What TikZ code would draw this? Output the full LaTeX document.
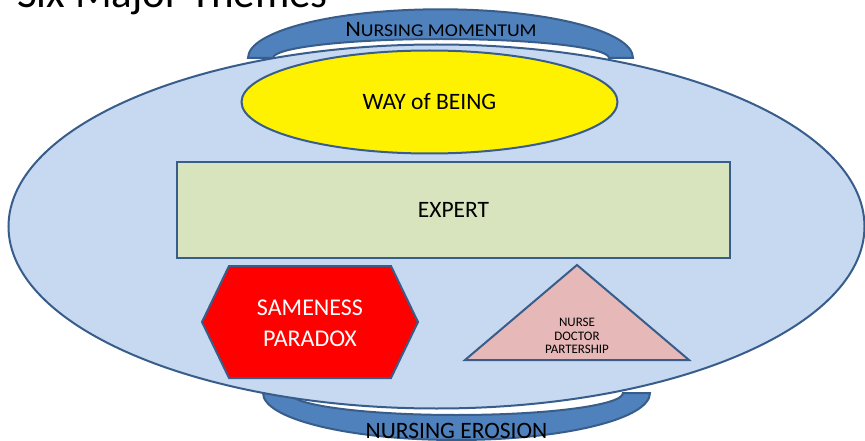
\documentclass[tikz,border=0pt]{standalone}
\usepackage{fontspec}
\setmainfont{Carlito}
\usetikzlibrary{shapes.geometric}

\definecolor{edgeblue}{RGB}{56,93,138}
\definecolor{bandblue}{RGB}{79,129,189}
\definecolor{ovalblue}{RGB}{198,217,241}
\definecolor{expertgreen}{RGB}{215,228,189}
\definecolor{partnerpink}{RGB}{230,185,184}

\begin{document}
\begin{tikzpicture}[x=1pt, y=1pt,
    outline/.style={draw=edgeblue, line width=2pt},
    band/.style={outline, fill=bandblue},
    theme/.style={outline, align=center, inner sep=0pt, font=\fontsize{23.5}{31}\selectfont}]
    \clip (0,0) rectangle (865,440);

    % heading, cut by the top edge
    \node[anchor=base west, inner sep=0pt, font=\fontsize{43}{43}\selectfont] (title) at (17,432) {Six Major Themes};

    % the two bands sit behind the big oval
    \draw[band] (248,382) arc[start angle=180, end angle=0, x radius=192.5pt, y radius=48.7pt]
        -- (609,382) arc[start angle=0, end angle=180, x radius=168pt, y radius=19pt] -- cycle;
    \draw[band] (263,47) arc[start angle=180, end angle=360, x radius=193.5pt, y radius=47pt]
        -- (623,47) arc[start angle=360, end angle=180, x radius=166.5pt, y radius=22pt] -- cycle;

    \node[outline, ellipse, fill=ovalblue, minimum width=856pt, minimum height=364pt] (core) at (436.5,213.5) {};

    \node[theme, ellipse, fill=yellow, minimum width=376pt, minimum height=103pt] (being) at (429.5,338) {WAY of BEING};
    \node[theme, rectangle, fill=expertgreen, minimum width=553pt, minimum height=96pt] (expert) at (453.5,230) {EXPERT};

    % hexagon and triangle
    \draw[outline, fill=red] (202,118) -- (229,174) -- (391,174) -- (418,118) -- (391,62) -- (229,62) -- cycle;
    \node[align=center, text=white, font=\fontsize{24}{31}\selectfont] (sameness) at (310,116.5) {SAMENESS\\PARADOX};
    \draw[outline, fill=partnerpink] (465,80) -- (577,175) -- (689,80) -- cycle;
    \node[align=center, font=\fontsize{13}{13.5}\selectfont] (partner) at (577,104) {NURSE\\DOCTOR\\PARTERSHIP};

    % band labels
    \node[anchor=base, inner sep=0pt, xscale=1.1, font=\fontsize{22}{22}\selectfont] (momentum) at (441,403)
        {N{\fontsize{18}{18}\selectfont URSING MOMENTUM}};
    \node[anchor=base, inner sep=0pt, font=\fontsize{23.5}{23.5}\selectfont] (erosion) at (456.5,2) {NURSING EROSION};
\end{tikzpicture}
\end{document}
